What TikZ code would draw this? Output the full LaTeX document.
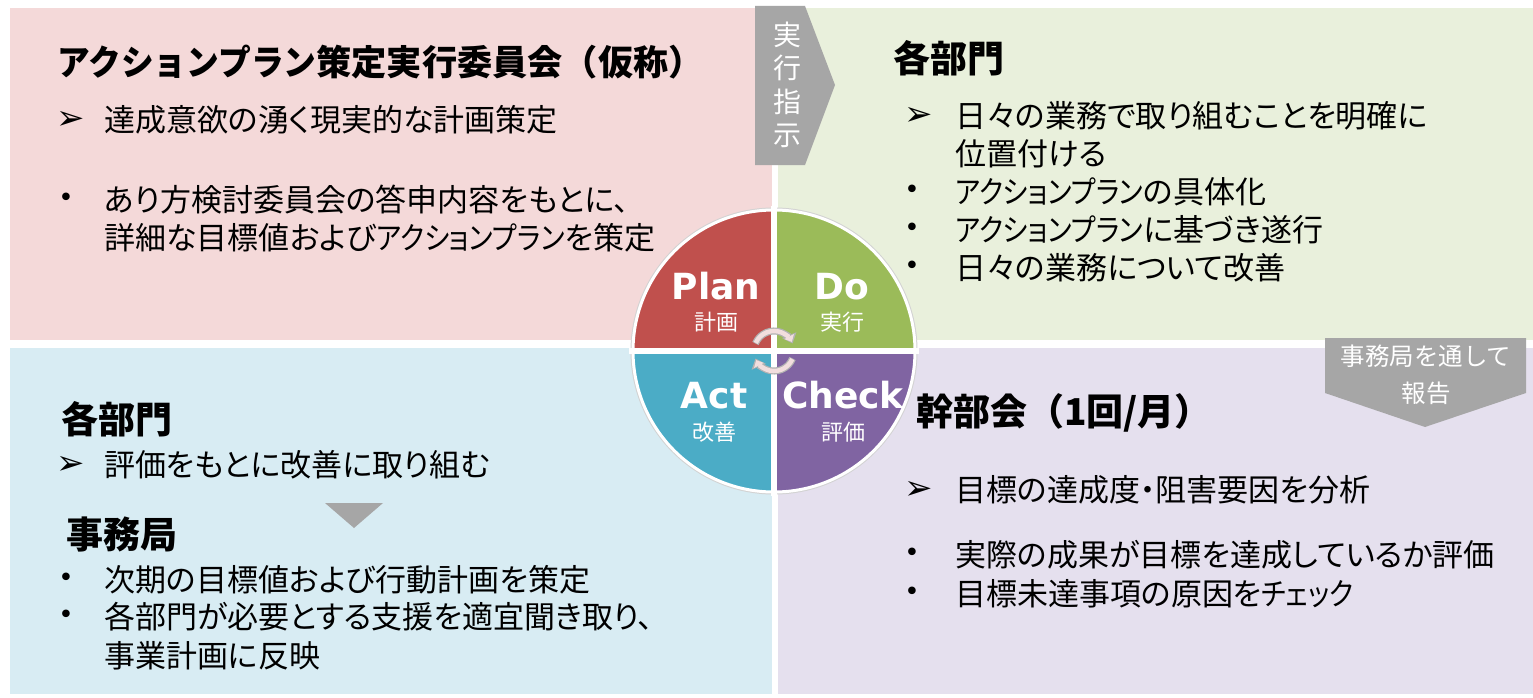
\documentclass[tikz,border=0pt]{standalone}
\usepackage{fontspec}
\usetikzlibrary{arrows.meta}
\newfontfamily\jp{Noto Sans CJK JP}
\newfontfamily\jpp{Noto Sans CJK JP}[RawFeature=+palt]
\newfontfamily\jpk{Noto Sans CJK JP}[RawFeature=+palt,FakeStretch=0.87]
\newfontfamily\jpt{Noto Sans CJK JP}[FakeStretch=0.93]
\newfontfamily\dv{DejaVu Sans}
\newcommand{\kata}[1]{{\jpk #1}}
\definecolor{planc}{HTML}{C0504D}
\definecolor{doc}{HTML}{9BBB59}
\definecolor{actc}{HTML}{4BACC6}
\definecolor{checkc}{HTML}{8064A2}
\definecolor{bgred}{HTML}{F4D9D9}
\definecolor{bggreen}{HTML}{E9F0DC}
\definecolor{bgblue}{HTML}{D8ECF3}
\definecolor{bgpurple}{HTML}{E5E0EE}
\definecolor{arrowgray}{HTML}{A6A6A6}
\definecolor{cyclefill}{HTML}{F2DEDE}
\begin{document}
\begin{tikzpicture}[x=1pt,y=1pt,
  body/.style={anchor=west,inner sep=0pt,font=\jpp\fontsize{31}{38}\selectfont},
  head/.style={anchor=west,inner sep=0pt,font=\jp\bfseries\fontsize{37}{40}\selectfont},
  arrowbullet/.style={inner sep=0pt,font=\dv\fontsize{34}{34}\selectfont},
  dotbullet/.style={inner sep=0pt,font=\dv\fontsize{26}{26}\selectfont},
  pdca/.style={inner sep=0pt,anchor=base,text=white,font=\dv\bfseries\fontsize{36}{36}\selectfont},
  pdcajp/.style={inner sep=0pt,text=white,font=\jp\fontsize{22}{22}\selectfont},
  grayarrow/.style={fill=arrowgray},
  arrowtext/.style={inner sep=0pt,text=white,align=center}]
\useasboundingbox (0,0) rectangle (1533,-698);
\fill[white] (0,0) rectangle (1533,-698);

% quadrant backgrounds
\fill[bgred] (10,-8) rectangle (772,-340);
\fill[bggreen] (778,-8) rectangle (1533,-340);
\fill[bgblue] (10,-348) rectangle (772,-694);
\fill[bgpurple] (778,-348) rectangle (1533,-694);

% arrow: 実行指示
\fill[grayarrow] (755,-6) -- (805,-6) -- (835,-85) -- (805,-165) -- (755,-165) -- cycle;
\node[arrowtext,font=\jp\fontsize{28}{33.5}\selectfont] (exec) at (787,-85) {実\\行\\指\\示};

% arrow: 事務局を通して報告
\fill[grayarrow] (1325,-338) -- (1526,-338) -- (1526,-393) -- (1425,-427) -- (1325,-393) -- cycle;
\node[arrowtext,font=\jp\fontsize{24.5}{24.5}\selectfont] (rep1) at (1426,-356) {事務局を通して};
\node[arrowtext,font=\jp\fontsize{24.5}{24.5}\selectfont] (rep2) at (1426,-393) {報告};

% small down triangle
\fill[grayarrow] (325,-503) -- (383,-503) -- (354,-528) -- cycle;

% PDCA circle
\coordinate (C) at (774,-351);
\fill[gray!35] (C) circle (143.5);
\fill[planc] (C) -- ++(180:141) arc (180:90:141) -- cycle;
\fill[doc] (C) -- ++(90:141) arc (90:0:141) -- cycle;
\fill[checkc] (C) -- ++(0:141) arc (0:-90:141) -- cycle;
\fill[actc] (C) -- ++(-90:141) arc (-90:-180:141) -- cycle;
\draw[white,line width=6.5] ([xshift=-145]C) -- ([xshift=145]C);
\draw[white,line width=6.5] ([yshift=145]C) -- ([yshift=-145]C);
\draw[white,line width=3] (C) circle (141);

% cycle arrows at the centre
\draw[gray!60,line width=7,-{Triangle[length=9pt,width=15pt]}] ([shift={(158:20)}]C) arc (158:22:20);
\draw[cyclefill,line width=4.5,-{Triangle[length=6pt,width=10.5pt]}] ([shift={(156:20)}]C) arc (156:27:20);
\draw[gray!60,line width=7,-{Triangle[length=9pt,width=15pt]}] ([shift={(-22:20)}]C) arc (-22:-158:20);
\draw[cyclefill,line width=4.5,-{Triangle[length=6pt,width=10.5pt]}] ([shift={(-24:20)}]C) arc (-24:-153:20);

\node[pdca] (plan) at (716,-299) {Plan};
\node[pdcajp] (planjp) at (716,-322) {計画};
\node[pdca] (do) at (842,-299) {Do};
\node[pdcajp] (dojp) at (842,-322) {実行};
\node[pdca] (act) at (714,-408) {Act};
\node[pdcajp] (actjp) at (714,-432) {改善};
\node[pdca] (check) at (843,-408) {Check};
\node[pdcajp] (checkjp) at (843,-432) {評価};

% top-left quadrant
\node[head,font=\jp\bfseries\fontsize{35.2}{40}\selectfont] (tlh) at (57,-62) {{\jpt\bfseries アクションプラン}策定実行委員会（仮称）};
\node[arrowbullet] (tlb1) at (71,-120) {➢};
\node[body] (tl1) at (104,-120) {達成意欲の湧く現実的な計画策定};
\node[dotbullet] (tlb2) at (66,-200) {•};
\node[body] (tl2) at (104,-200) {あり方検討委員会の答申内容をもとに、};
\node[body] (tl3) at (104,-238) {詳細な目標値および\kata{アクションプラン}を策定};

% top-right quadrant
\node[head] (trh) at (893,-58) {各部門};
\node[arrowbullet] (trb1) at (919,-116) {➢};
\node[body] (tr1) at (955,-116) {日々の業務で取り組むことを明確に};
\node[body] (tr2) at (955,-154) {位置付ける};
\node[dotbullet] (trb2) at (912,-192) {•};
\node[body] (tr3) at (955,-192) {\kata{アクションプラン}の具体化};
\node[dotbullet] (trb3) at (912,-230) {•};
\node[body] (tr4) at (955,-230) {\kata{アクションプラン}に基づき遂行};
\node[dotbullet] (trb4) at (912,-268) {•};
\node[body] (tr5) at (955,-268) {日々の業務について改善};

% bottom-left quadrant
\node[head] (blh1) at (61,-419) {各部門};
\node[arrowbullet] (blb1) at (71,-465) {➢};
\node[body] (bl1) at (104,-465) {評価をもとに改善に取り組む};
\node[head] (blh2) at (66,-534) {事務局};
\node[dotbullet] (blb2) at (66,-580) {•};
\node[body] (bl2) at (104,-580) {次期の目標値および行動計画を策定};
\node[dotbullet] (blb3) at (66,-617) {•};
\node[body] (bl3) at (104,-617) {各部門が必要とする支援を適宜聞き取り、};
\node[body] (bl4) at (104,-656) {事業計画に反映};

% bottom-right quadrant
\node[head] (brh) at (916,-413) {幹部会（1回/月）};
\node[arrowbullet] (brb1) at (919,-490) {➢};
\node[body] (br1) at (955,-490) {目標の達成度・阻害要因を分析};
\node[dotbullet] (brb2) at (912,-555) {•};
\node[body] (br2) at (955,-555) {実際の成果が目標を達成しているか評価};
\node[dotbullet] (brb3) at (912,-594) {•};
\node[body] (br3) at (955,-594) {目標未達事項の原因を\kata{チェック}};
\end{tikzpicture}
\end{document}
